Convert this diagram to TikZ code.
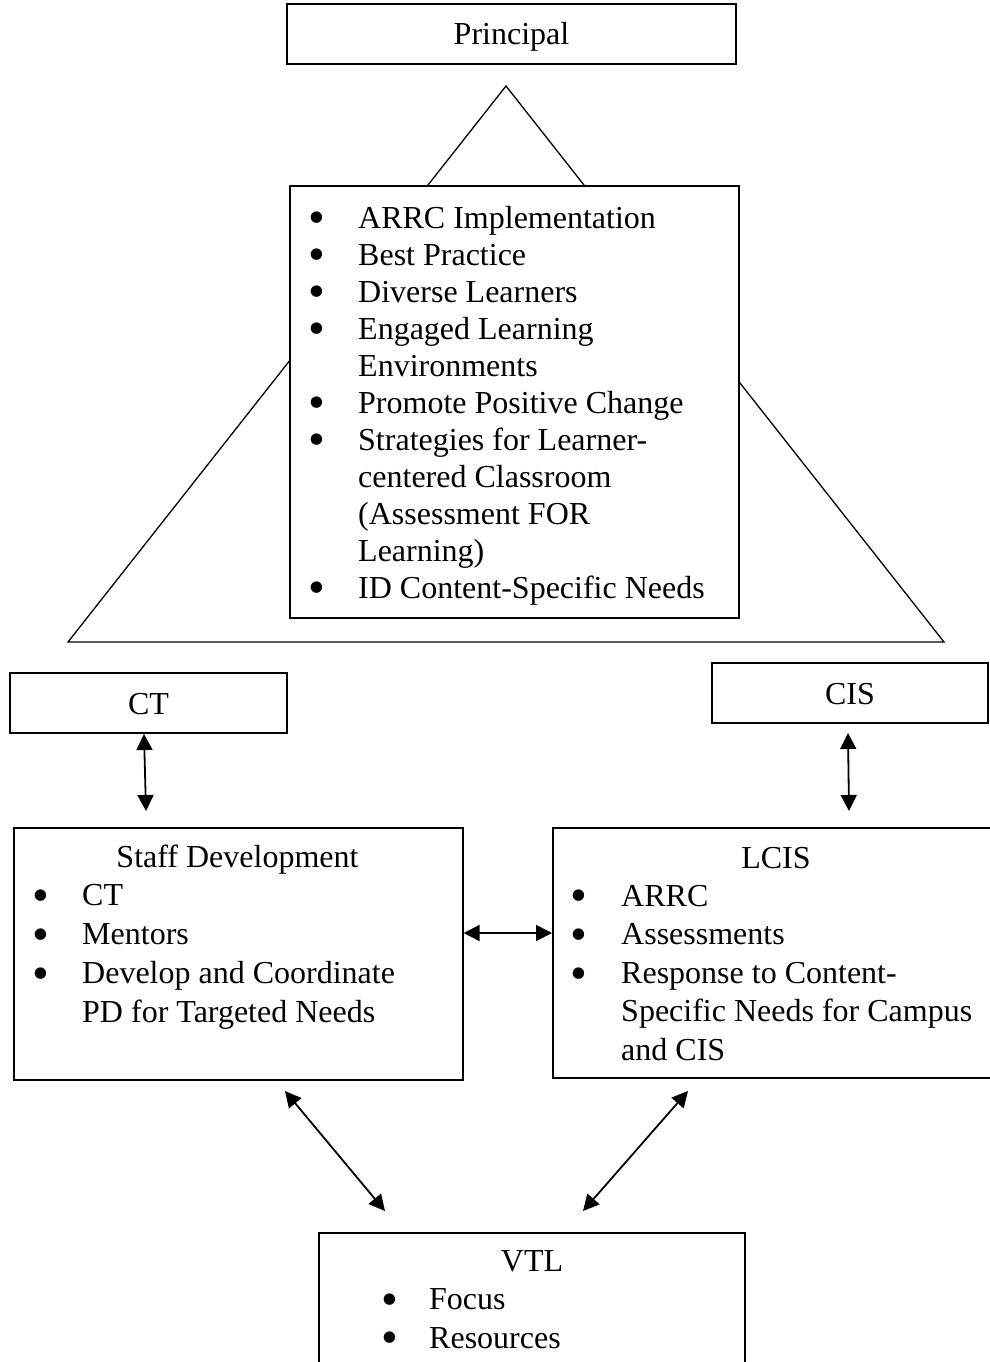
\documentclass[tikz,border=0pt]{standalone}
\usepackage{fontspec}
\setmainfont{Liberation Serif}
\usetikzlibrary{arrows.meta, positioning}

\tikzset{
  box/.style={draw, line width=1.6pt, fill=white, inner sep=0pt},
  head/.style={box, minimum height=60pt, text height=22pt, text depth=0pt,
    font=\fontsize{32}{37}\selectfont},
  title/.style={inner sep=0pt, anchor=base, font=\fontsize{32}{37}\selectfont},
  list/.style={inner sep=0pt, anchor=base west, align=left, font=\fontsize{32}{#1}\selectfont},
  dot/.style={inner sep=0pt, anchor=base, yshift=-5pt, text height=20pt, text depth=0pt,
    font=\fontsize{48}{50}\selectfont},
  conn/.style={line width=1.8pt, <->},
}

\begin{document}
\begin{tikzpicture}[x=1pt, y=-1pt, >={Triangle[length=16pt,width=16pt]}]
  \path [use as bounding box, clip] (0,0) rectangle (990,1362);
  % big triangle behind the centre list
  \draw [line width=1.3pt] (506,86) -- (944,642) -- (68,642) -- cycle;

  \node [head, minimum width=449pt] (principal) at (511.5,34) {Principal};

  % lists sit on the baseline of their last line
  \node [box, anchor=north west, minimum width=449pt, minimum height=432pt] (focus) at (289,185) {};
  \node [list=37] (focuslist) at (358,598) {ARRC Implementation\\Best Practice\\Diverse Learners\\
    Engaged Learning\\Environments\\Promote Positive Change\\Strategies for Learner-\\
    centered Classroom\\(Assessment FOR\\Learning)\\ID Content-Specific Needs};
  \foreach \y [count=\i] in {228,265,302,339,413,450,598}
    \node [dot] (fb\i) at (317,\y) {•};

  \node [head, minimum width=277pt] (ct) at (148.5,703) {CT};
  \node [head, minimum width=276pt] (cis) at (850,693) {CIS};

  % staff development
  \node [box, anchor=north west, minimum width=449pt, minimum height=252pt] (sd) at (13,827) {};
  \node [title] (sdtitle) at (237.5,867) {Staff Development};
  \node [list=38.7] (sdlist) at (82,1022) {CT\\Mentors\\Develop and Coordinate\\PD for Targeted Needs};
  \foreach \y [count=\i] in {906,945,984}
    \node [dot] (sb\i) at (41,\y) {•};

  % lcis
  \node [box, anchor=north west, minimum width=460pt, minimum height=250pt] (lcis) at (552,827) {};
  \node [title] (lcistitle) at (776,868) {LCIS};
  \node [list=38.5] (lcislist) at (621,1060) {ARRC\\Assessments\\Response to Content-\\
    Specific Needs for Campus\\and CIS};
  \foreach \y [count=\i] in {906,945,984}
    \node [dot] (lb\i) at (579,\y) {•};

  % vtl
  \node [box, anchor=north west, minimum width=426pt, minimum height=200pt] (vtl) at (318,1232) {};
  \node [title] (vtltitle) at (532,1271) {VTL};
  \node [list=38.5] (vtllist) at (429,1348) {Focus\\Resources};
  \foreach \y [count=\i] in {1310,1348}
    \node [dot] (vb\i) at (390,\y) {•};

  % connector ends
  \coordinate (ctend) at (144,734);
  \coordinate (sdtop) at (146,811);
  \coordinate (cisend) at (848,733);
  \coordinate (lcistop) at (849,811);
  \coordinate (mid) at (0,933);
  \coordinate (sdlow) at (285,1091);
  \coordinate (lcislow) at (688,1091);
  \coordinate (vtlleft) at (385,1211);
  \coordinate (vtlright) at (583,1211);

  \draw [conn] (ctend) -- (sdtop);
  \draw [conn] (cisend) -- (lcistop);
  \draw [conn] (sd.east |- mid) -- (lcis.west |- mid);
  \draw [conn] (sdlow) -- (vtlleft);
  \draw [conn] (lcislow) -- (vtlright);
\end{tikzpicture}
\end{document}
